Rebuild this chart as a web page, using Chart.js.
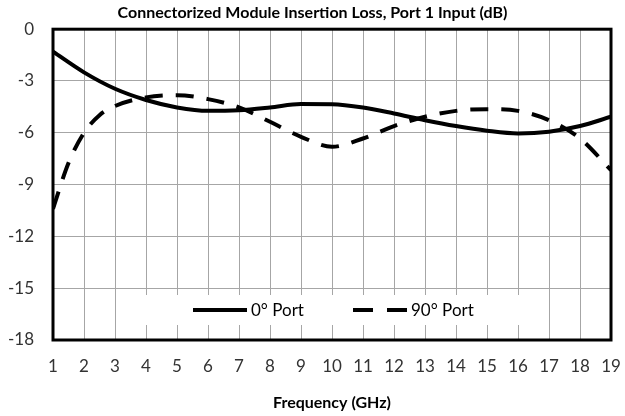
<!DOCTYPE html>
<html>
<head>
<meta charset="utf-8">
<script src="https://cdn.jsdelivr.net/npm/chart.js@4/dist/chart.umd.min.js"></script>
<style>
html,body{margin:0;padding:0;background:#fff;}
#wrap{width:625px;height:416px;position:relative;}
</style>
</head>
<body>
<div id="wrap"><canvas id="c" width="625" height="416"></canvas></div>
<script>
const chartTitle = "Connectorized Module Insertion Loss, Port 1 Input (dB)";
const xAxisTitle = "Frequency (GHz)";
const seriesNames = ["0° Port", "90° Port"];
const freqPort0 = [1,2,3,4,5,6,7,8,9,10,11,12,13,14,15,16,17,18,19];
const lossPort0 = [-1.3,-2.5,-3.45,-4.1,-4.53,-4.73,-4.69,-4.53,-4.33,-4.34,-4.53,-4.88,-5.27,-5.61,-5.88,-6.04,-5.94,-5.61,-5.07];
const freqPort90 = [1,1.5,2,2.5,3,4,5,6,7,8,9,10,11,12,13,14,15,16,17,18,19];
const lossPort90 = [-10.4,-7.75,-6.0,-4.98,-4.45,-3.95,-3.82,-4.05,-4.53,-5.36,-6.23,-6.81,-6.33,-5.61,-5.07,-4.73,-4.63,-4.73,-5.27,-6.33,-8.16];
const yMin = -18, yMax = 0, yStep = 3;
const xMin = 1, xMax = 19, xStep = 1;

const fontFam = "Lato, 'Open Sans', sans-serif";

const frameAndLegend = {
  id: 'frameAndLegend',
  beforeDatasetsDraw(chart) {
    const {ctx, chartArea: a} = chart;
    const boxL = a.left + 77, boxR = a.left + 477, boxT = a.bottom - 45, boxB = a.bottom - 15;
    ctx.save();
    ctx.fillStyle = '#fff';
    ctx.fillRect(boxL, boxT, boxR - boxL, boxB - boxT);
    const cy = (boxT + boxB) / 2;
    ctx.font = "17px " + fontFam;
    ctx.fillStyle = '#000';
    ctx.textBaseline = 'middle';
    chart.data.datasets.forEach((ds, i) => {
      const x0 = i === 0 ? a.left + 140 : a.left + 300;
      ctx.beginPath();
      ctx.lineWidth = ds.borderWidth;
      ctx.strokeStyle = ds.borderColor;
      ctx.setLineDash(ds.borderDash ? [20, 14] : []);
      ctx.lineCap = 'butt';
      ctx.moveTo(x0, cy);
      ctx.lineTo(x0 + 54, cy);
      ctx.stroke();
      ctx.setLineDash([]);
      ctx.fillText(ds.label, x0 + 58, cy + 1);
    });
    ctx.restore();
  },
  afterDatasetsDraw(chart) {
    const {ctx, chartArea: a} = chart;
    ctx.save();
    ctx.strokeStyle = '#000';
    ctx.lineWidth = 3;
    ctx.strokeRect(a.left, a.top, a.right - a.left, a.bottom - a.top);
    ctx.restore();
  }
};

new Chart(document.getElementById('c'), {
  type: 'line',
  data: {
    datasets: [
      {
        label: seriesNames[0],
        data: freqPort0.map((f, i) => ({x: f, y: lossPort0[i]})),
        borderColor: '#000',
        borderWidth: 4,
        pointRadius: 0,
        cubicInterpolationMode: 'monotone',
        fill: false
      },
      {
        label: seriesNames[1],
        data: freqPort90.map((f, i) => ({x: f, y: lossPort90[i]})),
        borderColor: '#000',
        borderWidth: 4,
        borderDash: [18, 13],
        pointRadius: 0,
        cubicInterpolationMode: 'monotone',
        fill: false
      }
    ]
  },
  options: {
    responsive: false,
    animation: false,
    devicePixelRatio: 1,
    layout: {padding: {left: 0, right: 0, top: 0, bottom: 0}},
    plugins: {
      legend: {display: false},
      tooltip: {enabled: false},
      title: {
        display: true,
        text: chartTitle,
        color: '#000',
        font: {family: fontFam, size: 16, weight: 'bold'},
        padding: {top: 3, bottom: 7}
      }
    },
    scales: {
      x: {
        type: 'linear',
        min: xMin, max: xMax,
        ticks: {stepSize: xStep, color: '#333', font: {family: fontFam, size: 17}, padding: 16},
        grid: {color: '#a6a6a6', lineWidth: 1, drawTicks: false},
        border: {display: false},
        title: {display: true, text: xAxisTitle, color: '#000', font: {family: fontFam, size: 16, weight: 'bold'}, padding: {top: 12, bottom: 4}},
        afterFit(s) { s.height = 76; s.paddingLeft = 0; s.paddingRight = 14; }
      },
      y: {
        min: yMin, max: yMax,
        ticks: {stepSize: yStep, color: '#333', font: {family: fontFam, size: 17}, padding: 19},
        grid: {color: '#a6a6a6', lineWidth: 1, drawTicks: false},
        border: {display: false},
        afterFit(s) { s.width = 53; s.paddingTop = 0; s.paddingBottom = 0; }
      }
    }
  },
  plugins: [frameAndLegend]
});
</script>
</body>
</html>
